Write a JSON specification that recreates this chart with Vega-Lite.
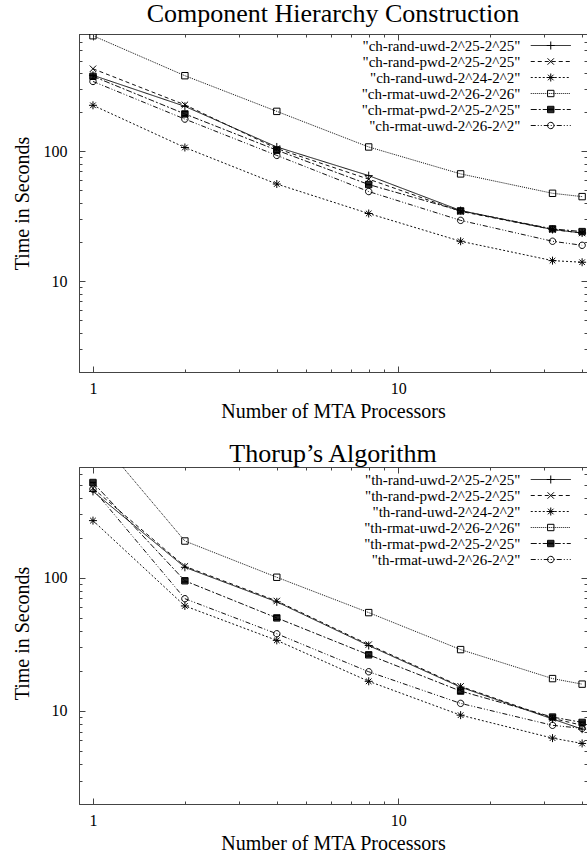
{
  "$schema": "https://vega.github.io/schema/vega-lite/v6.json",
  "padding": {"left": 11, "top": 0, "right": 1, "bottom": 2},
  "background": "white",
  "spacing": 18,
  "resolve": {
    "scale": {"strokeDash": "independent", "shape": "independent"},
    "legend": {"strokeDash": "independent", "shape": "independent"}
  },
  "config": {
    "font": "Liberation Serif",
    "view": {"stroke": "#444", "strokeWidth": 1},
    "axis": {"grid": false, "domainColor": "#444", "tickColor": "#444", "labelColor": "#000", "titleColor": "#000", "labelFont": "Liberation Serif", "titleFont": "Liberation Serif", "titleFontWeight": "normal", "labelFontSize": 16, "titleFontSize": 20, "labelOverlap": false, "labelFlush": false},
    "title": {"font": "Liberation Serif", "fontSize": 26, "fontWeight": "normal", "color": "#000", "baseline": "alphabetic", "offset": -1, "frame": "group"},
    "legend": {"labelFont": "Liberation Serif", "labelColor": "#000"}
  },
  "datasets": {
    "ch": [
      {"p": 1, "t": 385, "s": "ch-rand-uwd-2^25-2^25", "o": 1},
      {"p": 2, "t": 222, "s": "ch-rand-uwd-2^25-2^25", "o": 1},
      {"p": 4, "t": 108, "s": "ch-rand-uwd-2^25-2^25", "o": 1},
      {"p": 8, "t": 65, "s": "ch-rand-uwd-2^25-2^25", "o": 1},
      {"p": 16, "t": 35, "s": "ch-rand-uwd-2^25-2^25", "o": 1},
      {"p": 32, "t": 25, "s": "ch-rand-uwd-2^25-2^25", "o": 1},
      {"p": 40, "t": 23.5, "s": "ch-rand-uwd-2^25-2^25", "o": 1},
      {"p": 1, "t": 432, "s": "ch-rand-pwd-2^25-2^25", "o": 2},
      {"p": 2, "t": 228, "s": "ch-rand-pwd-2^25-2^25", "o": 2},
      {"p": 4, "t": 105, "s": "ch-rand-pwd-2^25-2^25", "o": 2},
      {"p": 8, "t": 61, "s": "ch-rand-pwd-2^25-2^25", "o": 2},
      {"p": 16, "t": 34.5, "s": "ch-rand-pwd-2^25-2^25", "o": 2},
      {"p": 32, "t": 25, "s": "ch-rand-pwd-2^25-2^25", "o": 2},
      {"p": 40, "t": 23.5, "s": "ch-rand-pwd-2^25-2^25", "o": 2},
      {"p": 1, "t": 226, "s": "ch-rand-uwd-2^24-2^2", "o": 3},
      {"p": 2, "t": 107, "s": "ch-rand-uwd-2^24-2^2", "o": 3},
      {"p": 4, "t": 56, "s": "ch-rand-uwd-2^24-2^2", "o": 3},
      {"p": 8, "t": 33.2, "s": "ch-rand-uwd-2^24-2^2", "o": 3},
      {"p": 16, "t": 20.3, "s": "ch-rand-uwd-2^24-2^2", "o": 3},
      {"p": 32, "t": 14.4, "s": "ch-rand-uwd-2^24-2^2", "o": 3},
      {"p": 40, "t": 14, "s": "ch-rand-uwd-2^24-2^2", "o": 3},
      {"p": 1, "t": 776, "s": "ch-rmat-uwd-2^26-2^26", "o": 4},
      {"p": 2, "t": 382, "s": "ch-rmat-uwd-2^26-2^26", "o": 4},
      {"p": 4, "t": 203, "s": "ch-rmat-uwd-2^26-2^26", "o": 4},
      {"p": 8, "t": 108, "s": "ch-rmat-uwd-2^26-2^26", "o": 4},
      {"p": 16, "t": 67, "s": "ch-rmat-uwd-2^26-2^26", "o": 4},
      {"p": 32, "t": 47.5, "s": "ch-rmat-uwd-2^26-2^26", "o": 4},
      {"p": 40, "t": 44.8, "s": "ch-rmat-uwd-2^26-2^26", "o": 4},
      {"p": 1, "t": 378, "s": "ch-rmat-pwd-2^25-2^25", "o": 5},
      {"p": 2, "t": 194, "s": "ch-rmat-pwd-2^25-2^25", "o": 5},
      {"p": 4, "t": 102, "s": "ch-rmat-pwd-2^25-2^25", "o": 5},
      {"p": 8, "t": 55.5, "s": "ch-rmat-pwd-2^25-2^25", "o": 5},
      {"p": 16, "t": 34.8, "s": "ch-rmat-pwd-2^25-2^25", "o": 5},
      {"p": 32, "t": 25.3, "s": "ch-rmat-pwd-2^25-2^25", "o": 5},
      {"p": 40, "t": 24.1, "s": "ch-rmat-pwd-2^25-2^25", "o": 5},
      {"p": 1, "t": 345, "s": "ch-rmat-uwd-2^26-2^2", "o": 6},
      {"p": 2, "t": 177, "s": "ch-rmat-uwd-2^26-2^2", "o": 6},
      {"p": 4, "t": 93, "s": "ch-rmat-uwd-2^26-2^2", "o": 6},
      {"p": 8, "t": 49, "s": "ch-rmat-uwd-2^26-2^2", "o": 6},
      {"p": 16, "t": 29.4, "s": "ch-rmat-uwd-2^26-2^2", "o": 6},
      {"p": 32, "t": 20.3, "s": "ch-rmat-uwd-2^26-2^2", "o": 6},
      {"p": 40, "t": 18.9, "s": "ch-rmat-uwd-2^26-2^2", "o": 6}
    ],
    "th": [
      {"p": 1, "t": 446, "s": "th-rand-uwd-2^25-2^25", "o": 1},
      {"p": 2, "t": 120, "s": "th-rand-uwd-2^25-2^25", "o": 1},
      {"p": 4, "t": 66, "s": "th-rand-uwd-2^25-2^25", "o": 1},
      {"p": 8, "t": 31, "s": "th-rand-uwd-2^25-2^25", "o": 1},
      {"p": 16, "t": 15.1, "s": "th-rand-uwd-2^25-2^25", "o": 1},
      {"p": 32, "t": 8.7, "s": "th-rand-uwd-2^25-2^25", "o": 1},
      {"p": 40, "t": 7.3, "s": "th-rand-uwd-2^25-2^25", "o": 1},
      {"p": 1, "t": 470, "s": "th-rand-pwd-2^25-2^25", "o": 2},
      {"p": 2, "t": 122, "s": "th-rand-pwd-2^25-2^25", "o": 2},
      {"p": 4, "t": 67, "s": "th-rand-pwd-2^25-2^25", "o": 2},
      {"p": 8, "t": 31.5, "s": "th-rand-pwd-2^25-2^25", "o": 2},
      {"p": 16, "t": 15.3, "s": "th-rand-pwd-2^25-2^25", "o": 2},
      {"p": 32, "t": 8.8, "s": "th-rand-pwd-2^25-2^25", "o": 2},
      {"p": 40, "t": 7.8, "s": "th-rand-pwd-2^25-2^25", "o": 2},
      {"p": 1, "t": 269, "s": "th-rand-uwd-2^24-2^2", "o": 3},
      {"p": 2, "t": 61.5, "s": "th-rand-uwd-2^24-2^2", "o": 3},
      {"p": 4, "t": 33.9, "s": "th-rand-uwd-2^24-2^2", "o": 3},
      {"p": 8, "t": 16.7, "s": "th-rand-uwd-2^24-2^2", "o": 3},
      {"p": 16, "t": 9.3, "s": "th-rand-uwd-2^24-2^2", "o": 3},
      {"p": 32, "t": 6.25, "s": "th-rand-uwd-2^24-2^2", "o": 3},
      {"p": 40, "t": 5.7, "s": "th-rand-uwd-2^24-2^2", "o": 3},
      {"p": 1, "t": 1250, "s": "th-rmat-uwd-2^26-2^26", "o": 4},
      {"p": 2, "t": 189, "s": "th-rmat-uwd-2^26-2^26", "o": 4},
      {"p": 4, "t": 101, "s": "th-rmat-uwd-2^26-2^26", "o": 4},
      {"p": 8, "t": 54.8, "s": "th-rmat-uwd-2^26-2^26", "o": 4},
      {"p": 16, "t": 28.9, "s": "th-rmat-uwd-2^26-2^26", "o": 4},
      {"p": 32, "t": 17.5, "s": "th-rmat-uwd-2^26-2^26", "o": 4},
      {"p": 40, "t": 15.9, "s": "th-rmat-uwd-2^26-2^26", "o": 4},
      {"p": 1, "t": 520, "s": "th-rmat-pwd-2^25-2^25", "o": 5},
      {"p": 2, "t": 95, "s": "th-rmat-pwd-2^25-2^25", "o": 5},
      {"p": 4, "t": 50, "s": "th-rmat-pwd-2^25-2^25", "o": 5},
      {"p": 8, "t": 26.4, "s": "th-rmat-pwd-2^25-2^25", "o": 5},
      {"p": 16, "t": 14.1, "s": "th-rmat-pwd-2^25-2^25", "o": 5},
      {"p": 32, "t": 9.0, "s": "th-rmat-pwd-2^25-2^25", "o": 5},
      {"p": 40, "t": 8.2, "s": "th-rmat-pwd-2^25-2^25", "o": 5},
      {"p": 1, "t": 464, "s": "th-rmat-uwd-2^26-2^2", "o": 6},
      {"p": 2, "t": 69.7, "s": "th-rmat-uwd-2^26-2^2", "o": 6},
      {"p": 4, "t": 38, "s": "th-rmat-uwd-2^26-2^2", "o": 6},
      {"p": 8, "t": 19.7, "s": "th-rmat-uwd-2^26-2^2", "o": 6},
      {"p": 16, "t": 11.4, "s": "th-rmat-uwd-2^26-2^2", "o": 6},
      {"p": 32, "t": 7.8, "s": "th-rmat-uwd-2^26-2^2", "o": 6},
      {"p": 40, "t": 7.4, "s": "th-rmat-uwd-2^26-2^2", "o": 6}
    ]
  },
  "vconcat": [
    {
      "title": "Component Hierarchy Construction",
      "width": 508,
      "height": 338,
      "data": {"name": "ch"},
      "layer": [
        {
          "mark": {"type": "line", "color": "#111", "strokeWidth": 1, "clip": true},
          "encoding": {
            "x": {"field": "p", "type": "quantitative", "scale": {"type": "log", "domain": [0.9, 41.5], "nice": false},
              "axis": {"orient": "bottom", "values": [1, 2, 3, 4, 5, 6, 7, 8, 9, 10, 20, 30, 40], "labelExpr": "datum.value == 1 || datum.value == 10 ? '' + datum.value : ''", "tickSize": {"condition": {"test": "datum.value == 1 || datum.value == 10", "value": -6}, "value": -3}, "labelPadding": 14, "title": "Number of MTA Processors", "titleY": 45, "titleBaseline": "alphabetic"}},
            "y": {"field": "t", "type": "quantitative", "scale": {"type": "log", "domain": [2, 800], "nice": false},
              "axis": {"orient": "left", "values": [2, 3, 4, 5, 6, 7, 8, 9, 10, 20, 30, 40, 50, 60, 70, 80, 90, 100, 200, 300, 400, 500, 600, 700, 800], "labelExpr": "datum.value == 10 || datum.value == 100 ? '' + datum.value : ''", "tickSize": {"condition": {"test": "datum.value == 10 || datum.value == 100", "value": -6}, "value": -3}, "labelPadding": 18, "title": "Time in Seconds", "titleX": -51, "titleY": 169, "titleBaseline": "alphabetic"}},
            "strokeDash": {"field": "s", "type": "nominal",
              "scale": {"domain": ["ch-rand-uwd-2^25-2^25", "ch-rand-pwd-2^25-2^25", "ch-rand-uwd-2^24-2^2", "ch-rmat-uwd-2^26-2^26", "ch-rmat-pwd-2^25-2^25", "ch-rmat-uwd-2^26-2^2"], "range": [[1, 0], [4, 3], [2, 2], [1, 1], [6, 2, 2, 2], [5, 2, 1, 2, 1, 2]]},
              "legend": {"title": null, "orient": "none", "legendX": 256, "legendY": 4, "padding": 0, "symbolType": "M-5,0H5", "symbolSize": 64, "symbolStrokeColor": "#111", "symbolStrokeWidth": 1, "symbolFillColor": "transparent", "symbolOffset": 208.25, "labelAlign": "right", "labelOffset": -37.75, "labelFontSize": 15, "rowPadding": -5, "labelLimit": 400, "labelExpr": "'\"' + datum.label + '\"'"}}
          }
        },
        {
          "mark": {"type": "point", "filled": false, "color": "#000", "strokeWidth": 1, "size": 64, "opacity": 1, "clip": true},
          "encoding": {
            "x": {"field": "p", "type": "quantitative",
              "axis": {"orient": "top", "values": [1, 2, 3, 4, 5, 6, 7, 8, 9, 10, 20, 30, 40], "labels": false, "title": null, "minExtent": 0, "maxExtent": 0, "tickSize": {"condition": {"test": "datum.value == 1 || datum.value == 10", "value": -6}, "value": -3}}},
            "y": {"field": "t", "type": "quantitative",
              "axis": {"orient": "right", "values": [2, 3, 4, 5, 6, 7, 8, 9, 10, 20, 30, 40, 50, 60, 70, 80, 90, 100, 200, 300, 400, 500, 600, 700, 800], "labels": false, "title": null, "minExtent": 0, "maxExtent": 0, "tickSize": {"condition": {"test": "datum.value == 10 || datum.value == 100", "value": -6}, "value": -3}}},
            "shape": {"field": "s", "type": "nominal", "sort": {"field": "o", "op": "min"},
              "scale": {"range": ["M-1,0H1M0,-1V1", "M-0.8,-0.8L0.8,0.8M-0.8,0.8L0.8,-0.8", "M-1,0H1M0,-1V1M-0.7,-0.7L0.7,0.7M-0.7,0.7L0.7,-0.7", "M-0.8,-0.8H0.8V0.8H-0.8Z", "M-0.8,-0.8H0.8V0.8H-0.8ZM-0.8,-0.6H0.8M-0.8,-0.4H0.8M-0.8,-0.2H0.8M-0.8,0H0.8M-0.8,0.2H0.8M-0.8,0.4H0.8M-0.8,0.6H0.8", "M-0.8,0A0.8,0.8 0 1,0 0.8,0A0.8,0.8 0 1,0 -0.8,0Z"]},
              "legend": {"title": null, "orient": "none", "legendX": 256, "legendY": 4, "padding": 0, "symbolSize": 64, "symbolStrokeColor": "#000", "symbolFillColor": "transparent", "symbolStrokeWidth": 1, "symbolOffset": 208.25, "labelOpacity": 0, "labelAlign": "right", "labelOffset": -37.75, "labelExpr": "' '", "labelFontSize": 15, "rowPadding": -5, "labelLimit": 400}}
          }
        }
      ],
      "resolve": {"axis": {"x": "independent", "y": "independent"}}
    },
    {
      "title": "Thorup’s Algorithm",
      "width": 508,
      "height": 337,
      "data": {"name": "th"},
      "layer": [
        {
          "mark": {"type": "line", "color": "#111", "strokeWidth": 1, "clip": true},
          "encoding": {
            "x": {"field": "p", "type": "quantitative", "scale": {"type": "log", "domain": [0.9, 41.5], "nice": false},
              "axis": {"orient": "bottom", "values": [1, 2, 3, 4, 5, 6, 7, 8, 9, 10, 20, 30, 40], "labelExpr": "datum.value == 1 || datum.value == 10 ? '' + datum.value : ''", "tickSize": {"condition": {"test": "datum.value == 1 || datum.value == 10", "value": -6}, "value": -3}, "labelPadding": 14, "title": "Number of MTA Processors", "titleY": 45, "titleBaseline": "alphabetic"}},
            "y": {"field": "t", "type": "quantitative", "scale": {"type": "log", "domain": [2, 680], "nice": false},
              "axis": {"orient": "left", "values": [2, 3, 4, 5, 6, 7, 8, 9, 10, 20, 30, 40, 50, 60, 70, 80, 90, 100, 200, 300, 400, 500, 600], "labelExpr": "datum.value == 10 || datum.value == 100 ? '' + datum.value : ''", "tickSize": {"condition": {"test": "datum.value == 10 || datum.value == 100", "value": -6}, "value": -3}, "labelPadding": 18, "title": "Time in Seconds", "titleX": -51, "titleY": 166, "titleBaseline": "alphabetic"}},
            "strokeDash": {"field": "s", "type": "nominal",
              "scale": {"domain": ["th-rand-uwd-2^25-2^25", "th-rand-pwd-2^25-2^25", "th-rand-uwd-2^24-2^2", "th-rmat-uwd-2^26-2^26", "th-rmat-pwd-2^25-2^25", "th-rmat-uwd-2^26-2^2"], "range": [[1, 0], [4, 3], [2, 2], [1, 1], [6, 2, 2, 2], [5, 2, 1, 2, 1, 2]]},
              "legend": {"title": null, "orient": "none", "legendX": 256, "legendY": 5, "padding": 0, "symbolType": "M-5,0H5", "symbolSize": 64, "symbolStrokeColor": "#111", "symbolStrokeWidth": 1, "symbolFillColor": "transparent", "symbolOffset": 208.25, "labelAlign": "right", "labelOffset": -37.75, "labelFontSize": 15, "rowPadding": -5, "labelLimit": 400, "labelExpr": "'\"' + datum.label + '\"'"}}
          }
        },
        {
          "mark": {"type": "point", "filled": false, "color": "#000", "strokeWidth": 1, "size": 64, "opacity": 1, "clip": true},
          "encoding": {
            "x": {"field": "p", "type": "quantitative",
              "axis": {"orient": "top", "values": [1, 2, 3, 4, 5, 6, 7, 8, 9, 10, 20, 30, 40], "labels": false, "title": null, "minExtent": 0, "maxExtent": 0, "tickSize": {"condition": {"test": "datum.value == 1 || datum.value == 10", "value": -6}, "value": -3}}},
            "y": {"field": "t", "type": "quantitative",
              "axis": {"orient": "right", "values": [2, 3, 4, 5, 6, 7, 8, 9, 10, 20, 30, 40, 50, 60, 70, 80, 90, 100, 200, 300, 400, 500, 600], "labels": false, "title": null, "minExtent": 0, "maxExtent": 0, "tickSize": {"condition": {"test": "datum.value == 10 || datum.value == 100", "value": -6}, "value": -3}}},
            "shape": {"field": "s", "type": "nominal", "sort": {"field": "o", "op": "min"},
              "scale": {"range": ["M-1,0H1M0,-1V1", "M-0.8,-0.8L0.8,0.8M-0.8,0.8L0.8,-0.8", "M-1,0H1M0,-1V1M-0.7,-0.7L0.7,0.7M-0.7,0.7L0.7,-0.7", "M-0.8,-0.8H0.8V0.8H-0.8Z", "M-0.8,-0.8H0.8V0.8H-0.8ZM-0.8,-0.6H0.8M-0.8,-0.4H0.8M-0.8,-0.2H0.8M-0.8,0H0.8M-0.8,0.2H0.8M-0.8,0.4H0.8M-0.8,0.6H0.8", "M-0.8,0A0.8,0.8 0 1,0 0.8,0A0.8,0.8 0 1,0 -0.8,0Z"]},
              "legend": {"title": null, "orient": "none", "legendX": 256, "legendY": 5, "padding": 0, "symbolSize": 64, "symbolStrokeColor": "#000", "symbolFillColor": "transparent", "symbolStrokeWidth": 1, "symbolOffset": 208.25, "labelOpacity": 0, "labelAlign": "right", "labelOffset": -37.75, "labelExpr": "' '", "labelFontSize": 15, "rowPadding": -5, "labelLimit": 400}}
          }
        }
      ],
      "resolve": {"axis": {"x": "independent", "y": "independent"}}
    }
  ]
}
